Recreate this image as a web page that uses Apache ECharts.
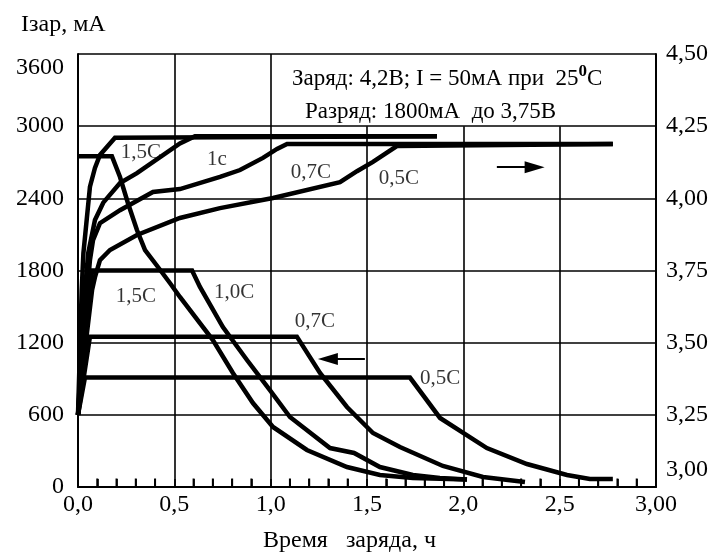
<!DOCTYPE html>
<html><head><meta charset="utf-8">
<script src="https://cdn.jsdelivr.net/npm/echarts@6/dist/echarts.min.js"></script>
<style>html,body{margin:0;padding:0;background:#fff}#c{width:719px;height:556px}</style>
</head><body><div id="c"></div>
<script>
// x: charge time, h ; left axis: current, mA ; right axis: voltage, V
var xTicks = [0, 0.5, 1.0, 1.5, 2.0, 2.5, 3.0];
var currentTicks = [0, 600, 1200, 1800, 2400, 3000, 3600];
var voltageTicks = [3.00, 3.25, 3.50, 3.75, 4.00, 4.25, 4.50];
// minor tick positions on the time axis (every 0,1 h)
var minorTicks = [0.1,0.2,0.3,0.4,0.6,0.7,0.8,0.9,1.1,1.2,1.3,1.4,1.6,1.7,1.8,1.9,2.1,2.2,2.3,2.4,2.6,2.7,2.8,2.9];

var curI15 = [[0.003,2750],[0.176,2750],[0.218,2577],[0.259,2361],[0.306,2137],[0.348,1970],[0.415,1829],[0.477,1696],[0.529,1580],[0.700,1222],[0.804,948],[0.908,698],[1.012,499],[1.188,308],[1.396,166],[1.567,100],[1.738,75],[2.019,62]];
var curI10 = [[0,600],[0.073,1800],[0.592,1800],[0.633,1663],[0.752,1330],[0.877,1056],[0.996,806],[1.100,582],[1.308,324],[1.433,283],[1.567,166],[1.738,100],[1.878,75],[2.019,62]];
var curI07 = [[0,600],[0.062,1250],[1.136,1250],[1.256,948],[1.396,665],[1.531,449],[1.671,333],[1.894,175],[2.102,83],[2.320,42]];
var curI05 = [[0,600],[0.036,910],[1.723,910],[1.879,574],[2.122,324],[2.330,191],[2.538,100],[2.657,67],[2.776,67]];

var volt15 = [[0,3.25],[0.019,3.68],[0.028,3.81],[0.045,3.925],[0.062,4.04],[0.088,4.105],[0.114,4.15],[0.192,4.21],[1.863,4.215]];
var volt10 = [[0,3.25],[0.036,3.68],[0.053,3.81],[0.088,3.925],[0.131,3.985],[0.218,4.053],[0.306,4.087],[0.529,4.19],[0.607,4.215],[1.863,4.215]];
var volt07 = [[0,3.25],[0.031,3.544],[0.062,3.786],[0.078,3.855],[0.114,3.914],[0.218,3.959],[0.389,4.022],[0.529,4.032],[0.737,4.074],[0.841,4.098],[0.960,4.140],[1.033,4.171],[1.085,4.188],[2.776,4.188]];
var volt05 = [[0,3.25],[0.042,3.509],[0.073,3.682],[0.088,3.727],[0.114,3.786],[0.166,3.821],[0.306,3.873],[0.529,3.932],[0.737,3.966],[1.012,4.001],[1.360,4.056],[1.448,4.094],[1.531,4.126],[1.655,4.181],[2.776,4.188]];

// vertical grid lines: [x, top value in mA]
var vGrid = [[0.5,3600],[1.0,3600],[1.5,3000],[2.0,3000],[2.5,3000]];
// curve labels
var voltLabels = [[0.327,4.160,'1,5C'],[0.721,4.133,'1c'],[1.209,4.091,'0,7C'],[1.666,4.070,'0,5C']];
var curLabels = [[0.301,1580,'1,5C'],[0.810,1621,'1,0C'],[1.230,1372,'0,7C'],[1.879,906,'0,5C']];
// direction arrows: right one on voltage axis, left one on current axis
var arrowVolt = [[2.174,4.108],[2.370,4.108]];
var arrowCur = [[1.489,1064],[1.297,1064]];

var FONT = '"Liberation Serif","Times New Roman",serif';
function fmt(v, d){ return v.toFixed(d).replace('.', ','); }

var chart = echarts.init(document.getElementById('c'), null, {renderer:'canvas'});
function lineSeries(data, yi){
  return {type:'line', data:data, yAxisIndex:yi, symbol:'none', silent:true,
    lineStyle:{color:'#000', width:4.5, cap:'butt', join:'miter'}, z:3};
}
function arrowSeries(pts, yi){
  return {type:'line', data:[], yAxisIndex:yi, silent:true,
   markLine:{silent:true, label:{show:false}, animation:false,
     lineStyle:{color:'#000', width:1.8, type:'solid'},
     data:[[{coord:pts[0], symbol:'none'},{coord:pts[1], symbol:'triangle', symbolSize:[12,20]}]]}};
}
var series = [
  lineSeries(curI15,0), lineSeries(curI10,0), lineSeries(curI07,0), lineSeries(curI05,0),
  lineSeries(volt15,1), lineSeries(volt10,1), lineSeries(volt07,1), lineSeries(volt05,1),
  {type:'line', data:[], yAxisIndex:0, silent:true,
   markLine:{silent:true, symbol:['none','none'], label:{show:false}, animation:false,
     lineStyle:{color:'#000', width:1.6, type:'solid'},
     data: vGrid.map(function(g){ return [{coord:[g[0],0]},{coord:[g[0],g[1]]}]; })}, z:1},
  {type:'line', yAxisIndex:0, silent:true, z:20, symbol:'none', connectNulls:false,
   lineStyle:{color:'#000', width:2},
   data: (function(){ var d=[]; minorTicks.forEach(function(t){ d.push([t,0],[t,70],[t,null]); }); return d; })()},
  arrowSeries(arrowCur,0),
  arrowSeries(arrowVolt,1),
  {type:'scatter', yAxisIndex:1, data:voltLabels, symbolSize:1, itemStyle:{color:'rgba(0,0,0,0)'},
   label:{show:true, position:'inside', formatter:function(p){return p.data[2];}, color:'#000', fontFamily:FONT, fontSize:21}},
  {type:'scatter', yAxisIndex:0, data:curLabels, symbolSize:1, itemStyle:{color:'rgba(0,0,0,0)'},
   label:{show:true, position:'inside', formatter:function(p){return p.data[2];}, color:'#000', fontFamily:FONT, fontSize:21}}
];

chart.setOption({
  animation:false,
  backgroundColor:'#fff',
  textStyle:{fontFamily:FONT, color:'#000'},
  grid:{left:78, right:63, top:54, bottom:69, containLabel:false},
  title:[
    {text:'Iзар, мА', left:16, top:8, textStyle:{fontFamily:FONT, fontSize:24, fontWeight:'normal', color:'#000'}},
    {text:'Заряд: 4,2В; I = 50мА при  25{s|0}C', left:287, top:58,
     textStyle:{fontFamily:FONT, fontSize:23, fontWeight:'normal', color:'#000',
       rich:{s:{fontFamily:FONT, fontSize:17, fontWeight:'bold', color:'#000', padding:[0,0,14,0]}}}},
    {text:'Разряд: 1800мА  до 3,75В', left:300, top:95, textStyle:{fontFamily:FONT, fontSize:23, fontWeight:'normal', color:'#000'}},
    {text:'Время   заряда, ч', left:258, top:524, textStyle:{fontFamily:FONT, fontSize:24, fontWeight:'normal', color:'#000'}}
  ],
  xAxis:{type:'value', min:xTicks[0], max:xTicks[xTicks.length-1], interval:0.5,
    axisLine:{show:true, onZero:false, lineStyle:{color:'#000', width:2}},
    axisTick:{show:true, inside:true, length:8, lineStyle:{color:'#000', width:1.6}},
    minorTick:{show:true, splitNumber:5, length:8, lineStyle:{color:'#000', width:1.6}},
    splitLine:{show:false},
    axisLabel:{color:'#000', fontFamily:FONT, fontSize:24, margin:6,
      formatter:function(v){ return v===3 ? fmt(v,2) : fmt(v,1); }}},
  yAxis:[
    {type:'value', min:currentTicks[0], max:currentTicks[currentTicks.length-1], interval:600, position:'left',
     axisLine:{show:true, lineStyle:{color:'#000', width:2}}, axisTick:{show:false},
     splitLine:{show:true, lineStyle:{color:'#000', width:1.6}},
     axisLabel:{color:'#000', fontFamily:FONT, fontSize:24, margin:14,
       formatter:function(v){ return v===3600 ? '{lo|'+v+'}' : String(v); },
       rich:{lo:{fontFamily:FONT, fontSize:24, color:'#000', padding:[28,0,0,0]}}}},
    {type:'value', min:voltageTicks[0], max:voltageTicks[voltageTicks.length-1], interval:0.25, position:'right',
     axisLine:{show:true, lineStyle:{color:'#000', width:2}}, axisTick:{show:false},
     splitLine:{show:false},
     axisLabel:{color:'#000', fontFamily:FONT, fontSize:24, margin:10,
       formatter:function(v){ return Math.abs(v-3)<1e-9 ? '{hi|'+fmt(v,2)+'}' : fmt(v,2); },
       rich:{hi:{fontFamily:FONT, fontSize:24, color:'#000', padding:[0,0,34,0]}}}}
  ],
  series:series
});
</script></body></html>
